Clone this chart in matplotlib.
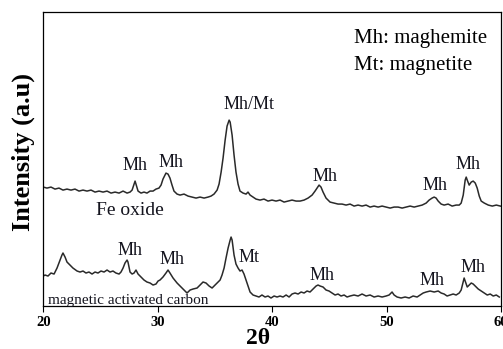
import matplotlib
matplotlib.use("Agg")
import matplotlib.pyplot as plt

plt.rcParams['font.family'] = ['Liberation Serif', 'DejaVu Serif']

# Fe oxide pattern (upper trace), 2theta in degrees, intensity in a.u.
fe_2theta = [20.0, 20.32, 20.67, 21.02, 21.37, 21.72, 22.07, 22.42, 22.77, 23.12,
             23.47, 23.82, 24.17, 24.52, 24.87, 25.22, 25.57, 25.92, 26.27, 26.62,
             26.97, 27.32, 27.58, 27.76, 27.93, 28.02, 28.10, 28.28, 28.54, 28.80,
             29.06, 29.33, 29.59, 29.85, 30.11, 30.29, 30.46, 30.64, 30.72, 30.90,
             31.07, 31.25, 31.42, 31.69, 31.95, 32.30, 32.65, 33.00, 33.35, 33.70,
             34.05, 34.40, 34.66, 34.92, 35.19, 35.36, 35.54, 35.71, 35.89, 36.06,
             36.24, 36.33, 36.50, 36.67, 36.84, 37.02, 37.19, 37.46, 37.72, 37.89,
             38.07, 38.33, 38.59, 38.94, 39.29, 39.64, 39.99, 40.34, 40.69, 41.04,
             41.39, 41.74, 42.09, 42.44, 42.79, 43.14, 43.49, 43.75, 43.92, 44.10,
             44.27, 44.45, 44.71, 45.06, 45.41, 45.76, 46.11, 46.46, 46.81, 47.16,
             47.51, 47.86, 48.21, 48.56, 48.91, 49.26, 49.61, 49.96, 50.31, 50.66,
             51.01, 51.36, 51.71, 52.06, 52.41, 52.76, 53.11, 53.46, 53.72, 53.98,
             54.16, 54.33, 54.51, 54.77, 55.03, 55.38, 55.73, 56.08, 56.35, 56.52,
             56.70, 56.87, 56.96, 57.05, 57.22, 57.40, 57.57, 57.75, 57.92, 58.10,
             58.27, 58.54, 58.89, 59.24, 59.59, 59.94]
fe_int = [119, 118, 119, 117, 118, 116, 117, 116, 117, 115,
          116, 115, 116, 114, 115, 114, 115, 113, 114, 113,
          115, 113, 114, 116, 122, 125, 122, 115, 113, 114,
          113, 115, 115, 117, 118, 121, 127, 131, 133, 132,
          128, 121, 115, 112, 111, 112, 110, 109, 108, 109,
          108, 109, 110, 112, 116, 122, 134, 148, 166, 180,
          186, 184, 171, 151, 134, 122, 115, 113, 112, 114,
          111, 109, 107, 106, 107, 105, 106, 105, 106, 104,
          105, 106, 105, 105, 106, 108, 111, 115, 118, 121,
          119, 114, 108, 104, 103, 102, 102, 101, 102, 100,
          101, 100, 101, 99, 100, 99, 100, 99, 98, 99,
          99, 98, 99, 100, 99, 100, 101, 103, 106, 108,
          109, 108, 105, 102, 101, 102, 100, 101, 101, 103,
          111, 126, 129, 126, 121, 124, 125, 123, 118, 110,
          105, 103, 101, 100, 101, 100]

# magnetic activated carbon pattern (lower trace)
mac_2theta = [20.0, 20.15, 20.41, 20.67, 20.94, 21.20, 21.46, 21.63, 21.72, 21.90,
              22.07, 22.33, 22.59, 22.95, 23.21, 23.47, 23.73, 23.99, 24.26, 24.52,
              24.78, 25.04, 25.31, 25.57, 25.83, 26.09, 26.35, 26.62, 26.79, 26.97,
              27.14, 27.32, 27.40, 27.58, 27.76, 27.93, 28.10, 28.28, 28.54, 28.80,
              29.06, 29.33, 29.59, 29.85, 30.03, 30.20, 30.46, 30.72, 30.90, 31.07,
              31.34, 31.69, 32.04, 32.30, 32.56, 32.83, 33.09, 33.44, 33.70, 33.96,
              34.22, 34.49, 34.75, 35.01, 35.27, 35.45, 35.62, 35.80, 35.97, 36.15,
              36.33, 36.41, 36.50, 36.67, 36.84, 37.02, 37.19, 37.37, 37.54, 37.72,
              37.89, 38.07, 38.33, 38.59, 38.85, 39.11, 39.38, 39.64, 39.90, 40.17,
              40.43, 40.69, 40.95, 41.22, 41.48, 41.74, 42.00, 42.27, 42.53, 42.79,
              43.05, 43.31, 43.58, 43.84, 44.01, 44.19, 44.45, 44.71, 44.97, 45.24,
              45.50, 45.76, 46.02, 46.29, 46.55, 46.81, 47.16, 47.51, 47.86, 48.21,
              48.56, 48.91, 49.26, 49.61, 49.96, 50.22, 50.48, 50.66, 50.92, 51.27,
              51.62, 51.97, 52.32, 52.67, 52.94, 53.20, 53.46, 53.81, 54.16, 54.51,
              54.77, 55.03, 55.29, 55.56, 55.82, 56.08, 56.35, 56.52, 56.70, 56.78,
              56.87, 57.05, 57.22, 57.40, 57.57, 57.75, 58.01, 58.27, 58.54, 58.80,
              59.06, 59.32, 59.59, 59.85]
mac_int = [30, 31, 30, 33, 32, 38, 46, 51, 53, 49,
           44, 41, 38, 35, 34, 35, 33, 34, 32, 34,
           33, 35, 34, 36, 34, 35, 33, 32, 34, 38,
           43, 46, 44, 34, 32, 33, 36, 32, 29, 26,
           24, 23, 21, 22, 25, 26, 29, 33, 36, 33,
           28, 23, 19, 16, 13, 16, 17, 18, 21, 24,
           23, 20, 18, 21, 24, 26, 31, 38, 48, 58,
           66, 69, 66, 51, 42, 38, 35, 36, 32, 26,
           20, 14, 11, 10, 9, 11, 9, 10, 8, 10,
           9, 10, 9, 11, 9, 12, 13, 12, 14, 13,
           15, 14, 17, 20, 21, 20, 19, 16, 15, 13,
           11, 12, 10, 11, 9, 10, 11, 10, 12, 10,
           11, 9, 10, 9, 10, 11, 14, 11, 9, 8,
           9, 8, 10, 9, 11, 13, 14, 15, 14, 15,
           13, 12, 10, 11, 12, 11, 13, 16, 24, 28,
           25, 19, 21, 23, 22, 20, 17, 15, 13, 11,
           12, 10, 11, 9]

# phase labels: (text, 2theta, intensity)
fe_labels = [("Mh", 28.02, 141), ("Mh", 31.17, 144), ("Mh/Mt", 37.98, 202),
             ("Mh", 44.62, 130), ("Mh", 54.24, 121), ("Mh", 57.12, 142)]
mac_labels = [("Mh", 27.58, 56), ("Mh", 31.25, 47), ("Mt", 37.98, 49),
              ("Mh", 44.36, 31), ("Mh", 53.98, 26), ("Mh", 57.57, 39)]

x_ticks = [20, 30, 40, 50, 60]

fig = plt.figure(figsize=(5.03, 3.49), dpi=100)
ax = fig.add_axes([0.0861, 0.1232, 0.9099, 0.8433])

line_color = '#2a2a2a'
ax.plot(fe_2theta, fe_int, color=line_color, lw=1.1)
ax.plot(mac_2theta, mac_int, color=line_color, lw=1.1)

text_color = '#14141e'
for txt, x, y in fe_labels + mac_labels:
    ax.text(x, y, txt, ha='center', va='center', fontsize=13, color=text_color)

ax.text(27.58, 96, "Fe oxide", ha='center', va='center', fontsize=14, color=text_color)
ax.text(20.41, 6, "magnetic activated carbon", ha='left', va='center',
        fontsize=11, color=text_color)
ax.text(47.13, 268, "Mh: maghemite", ha='left', va='center', fontsize=15, color='black')
ax.text(47.13, 241, "Mt: magnetite", ha='left', va='center', fontsize=15, color='black')

ax.set_xlim(20, 60)
ax.set_ylim(0, 294.5)
ax.set_xticks(x_ticks)
ax.set_xticklabels([str(t) for t in x_ticks], fontweight='bold', fontsize=10.5)
ax.set_yticks([])
ax.tick_params(axis='x', direction='out', length=4, width=0.8, pad=3)
for s in ax.spines.values():
    s.set_linewidth(0.9)

fig.text(23 / 503, 1 - 152 / 349, "Intensity (a.u)", rotation=90, ha='center',
         va='center', fontsize=19, fontweight='bold')
fig.text(258 / 503, 1 - 338 / 349, "2θ", ha='center', va='center',
         fontsize=17, fontweight='bold')

fig.savefig("out.png", dpi=100)
